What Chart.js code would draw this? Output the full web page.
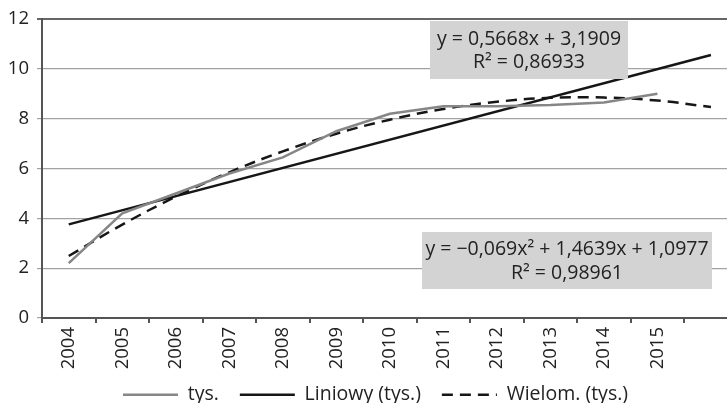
<!DOCTYPE html>
<html>
<head>
<meta charset="utf-8">
<script src="https://cdn.jsdelivr.net/npm/chart.js@4.4.1/dist/chart.umd.min.js"></script>
<style>
  html, body { margin: 0; padding: 0; background: #fff; }
</style>
</head>
<body>
<canvas id="chart" width="727" height="403"></canvas>
<script>
// data (x = period number, 1 = 2004)
const years = ['2004', '2005', '2006', '2007', '2008', '2009', '2010', '2011', '2012', '2013', '2014', '2015'];
const periods = [1, 2, 3, 4, 5, 6, 7, 8, 9, 10, 11, 12];
const tys = [2.2, 4.2, 5.0, 5.8, 6.45, 7.5, 8.2, 8.5, 8.5, 8.55, 8.65, 9.0];

const linPeriods = [1, 13];
const linValues = [3.76, 10.56];

const polyPeriods = [1, 2, 3, 4, 5, 6, 7, 8, 9, 10, 11, 12, 13];
const polyValues = [2.49, 3.75, 4.87, 5.85, 6.69, 7.40, 7.96, 8.39, 8.68, 8.84, 8.85, 8.73, 8.47];

const yTicks = [0, 2, 4, 6, 8, 10, 12];
const linLabel = ['y = 0,5668x + 3,1909', 'R² = 0,86933'];
const polyLabel = ['y = −0,069x² + 1,4639x + 1,0977', 'R² = 0,98961'];

const toPoints = (xs, ys) => xs.map((x, i) => ({ x, y: ys[i] }));

Chart.defaults.font.family = "'Open Sans', sans-serif";
Chart.defaults.font.size = 18.5;
Chart.defaults.color = '#222';

// grey equation boxes, drawn over the lines
const eqBoxes = {
  id: 'eqBoxes',
  afterDatasetsDraw(chart) {
    const ctx = chart.ctx;
    const boxes = [
      { l: 430, t: 21, w: 198, h: 58, lines: linLabel, ys: [39, 62] },
      { l: 422, t: 232, w: 290, h: 57, lines: polyLabel, ys: [249, 273] }
    ];
    ctx.save();
    boxes.forEach(b => {
      ctx.fillStyle = '#d3d3d3';
      ctx.fillRect(b.l, b.t, b.w, b.h);
      ctx.fillStyle = '#222';
      ctx.font = "19.5px 'Open Sans', sans-serif";
      ctx.textAlign = 'center';
      ctx.textBaseline = 'middle';
      b.lines.forEach((s, i) => ctx.fillText(s, b.l + b.w / 2, b.ys[i]));
    });
    ctx.restore();
  }
};

// keep the legend short in the layout, then move it to its place
const legendPlace = {
  id: 'legendPlace',
  beforeLayout(chart) {
    const lg = chart.legend;
    if (lg && !lg._short) {
      const fit = lg.fit;
      lg.fit = function () { fit.call(this); this.height = 30; };
      lg._short = true;
    }
  },
  afterLayout(chart) {
    const lg = chart.legend;
    lg.top -= 9;
    lg.bottom = chart.height;
    lg.height = lg.bottom - lg.top;
    lg.left += 12; lg.right += 12;
  }
};

new Chart(document.getElementById('chart'), {
  type: 'line',
  data: {
    datasets: [
      {
        label: 'tys.',
        data: toPoints(periods, tys),
        borderColor: '#868686',
        borderWidth: 2.5,
        pointRadius: 0,
        tension: 0
      },
      {
        label: 'Liniowy (tys.)',
        data: toPoints(linPeriods, linValues),
        borderColor: '#161616',
        borderWidth: 2.5,
        pointRadius: 0,
        tension: 0
      },
      {
        label: 'Wielom. (tys.)',
        data: toPoints(polyPeriods, polyValues),
        borderColor: '#161616',
        borderWidth: 2.5,
        borderDash: [11, 7],
        pointRadius: 0,
        tension: 0.4
      }
    ]
  },
  options: {
    responsive: false,
    animation: false,
    layout: { padding: { top: 7, left: 0, right: 0, bottom: 0 } },
    scales: {
      x: {
        type: 'linear',
        min: 0.5,
        max: 13.3,
        afterBuildTicks(scale) {
          const t = [];
          for (let v = 0.5; v <= 12.5; v += 0.5) t.push({ value: v });
          scale.ticks = t;
        },
        afterFit(scale) { scale.height = 55; },
        ticks: {
          autoSkip: false,
          minRotation: 90,
          maxRotation: 90,
          padding: 4,
          color: '#222',
          callback: v => Number.isInteger(v) ? years[v - 1] : ''
        },
        grid: {
          drawOnChartArea: false,
          tickLength: 5,
          lineWidth: 2,
          color: c => (c.tick && Number.isInteger(c.tick.value)) ? 'rgba(0,0,0,0)' : '#555'
        },
        border: { color: '#555', width: 2 }
      },
      y: {
        min: 0,
        max: 12,
        afterBuildTicks(scale) { scale.ticks = yTicks.map(v => ({ value: v })); },
        afterFit(scale) { scale.width = 42; },
        ticks: { padding: 8, color: '#222' },
        grid: {
          tickLength: 5,
          color: c => (c.tick && c.tick.value === 12) ? '#666' : '#a3a3a3',
          lineWidth: c => (c.tick && c.tick.value === 12) ? 2 : 1.2
        },
        border: { color: '#555', width: 2 }
      }
    },
    plugins: {
      legend: {
        position: 'bottom',
        labels: {
          usePointStyle: true,
          pointStyle: 'line',
          pointStyleWidth: 55,
          padding: 21,
          color: '#222',
          font: { size: 19.5 },
          generateLabels(chart) {
            const items = Chart.defaults.plugins.legend.labels.generateLabels(chart);
            return items.map(item => {
              const ds = chart.data.datasets[item.datasetIndex];
              return Object.assign(item, {
                strokeStyle: ds.borderColor,
                lineWidth: ds.borderWidth,
                lineDash: ds.borderDash || []
              });
            });
          }
        }
      },
      tooltip: { enabled: false }
    }
  },
  plugins: [eqBoxes, legendPlace]
});
</script>
</body>
</html>
